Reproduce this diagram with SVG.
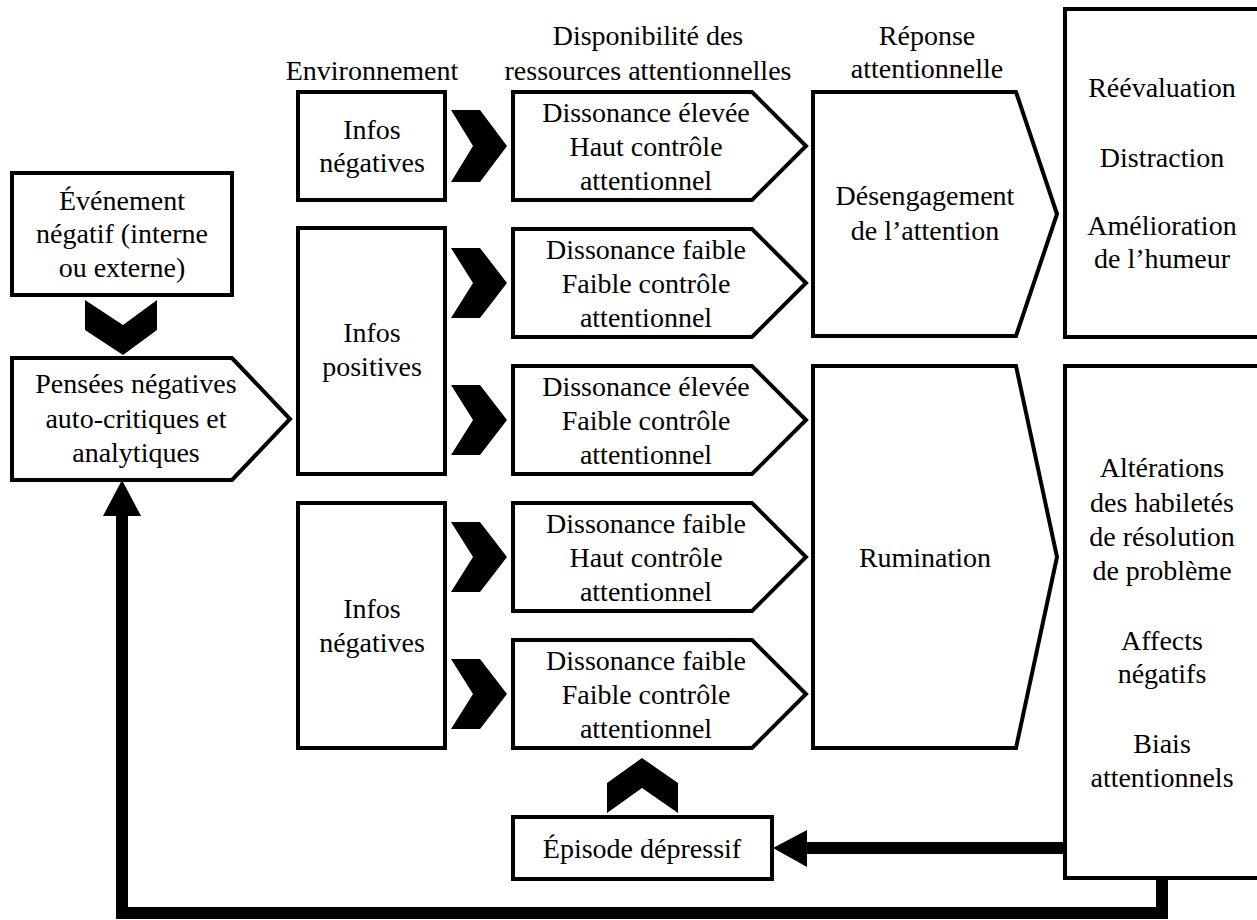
<svg xmlns="http://www.w3.org/2000/svg" width="1257" height="920" viewBox="0 0 1257 920" font-family="Liberation Serif, Times New Roman, DejaVu Serif, serif" font-size="28">
<style>
.box{fill:#fff;stroke:#000;stroke-width:4;stroke-linejoin:miter}
.chev{fill:#000;stroke:none}
text{fill:#000;text-anchor:middle}
.wire{fill:none;stroke:#000;stroke-width:12}
</style>
<rect width="1257" height="920" fill="#fff"/>
<g id="headers">
<text x="372" y="80">Environnement</text>
<text x="648" y="45">Disponibilité des</text>
<text x="648" y="80">ressources attentionnelles</text>
<text x="927" y="45">Réponse</text>
<text x="927" y="78">attentionnelle</text>
</g>
<g id="evenement">
<rect class="box" x="12" y="173" width="220" height="122"/>
<text x="122" y="210">Événement</text>
<text x="122" y="243">négatif (interne</text>
<text x="122" y="277">ou externe)</text>
</g>
<g id="pensees">
<polygon class="box" points="12,358 232,358 290,419 232,480 12,480"/>
<text x="136" y="393">Pensées négatives</text>
<text x="136" y="428">auto-critiques et</text>
<text x="136" y="462">analytiques</text>
</g>
<g id="infos-neg-1">
<rect class="box" x="298" y="92" width="147" height="108"/>
<text x="372" y="139">Infos</text>
<text x="372" y="172">négatives</text>
</g>
<g id="infos-pos">
<rect class="box" x="298" y="228" width="147" height="246"/>
<text x="372" y="342">Infos</text>
<text x="372" y="376">positives</text>
</g>
<g id="infos-neg-2">
<rect class="box" x="298" y="503" width="147" height="245"/>
<text x="372" y="618">Infos</text>
<text x="372" y="652">négatives</text>
</g>
<g id="diss-1">
<polygon class="box" points="513,92 752,92 806,146 752,200 513,200"/>
<text x="646" y="122">Dissonance élevée</text>
<text x="646" y="156">Haut contrôle</text>
<text x="646" y="190">attentionnel</text>
</g>
<g id="diss-2">
<polygon class="box" points="513,229 752,229 806,283 752,337 513,337"/>
<text x="646" y="259">Dissonance faible</text>
<text x="646" y="293">Faible contrôle</text>
<text x="646" y="327">attentionnel</text>
</g>
<g id="diss-3">
<polygon class="box" points="513,366 752,366 806,420 752,474 513,474"/>
<text x="646" y="396">Dissonance élevée</text>
<text x="646" y="430">Faible contrôle</text>
<text x="646" y="464">attentionnel</text>
</g>
<g id="diss-4">
<polygon class="box" points="513,503 752,503 806,557 752,611 513,611"/>
<text x="646" y="533">Dissonance faible</text>
<text x="646" y="567">Haut contrôle</text>
<text x="646" y="601">attentionnel</text>
</g>
<g id="diss-5">
<polygon class="box" points="513,640 752,640 806,694 752,748 513,748"/>
<text x="646" y="670">Dissonance faible</text>
<text x="646" y="704">Faible contrôle</text>
<text x="646" y="738">attentionnel</text>
</g>
<g id="desengagement">
<polygon class="box" points="813,92 1016,92 1057,214 1016,336 813,336"/>
<text x="925" y="205">Désengagement</text>
<text x="925" y="240">de l’attention</text>
</g>
<g id="rumination">
<polygon class="box" points="813,366 1016,366 1057,557 1016,748 813,748"/>
<text x="925" y="567">Rumination</text>
</g>
<g id="issues-positives">
<rect class="box" x="1065" y="9" width="210" height="328"/>
<text x="1162" y="97">Réévaluation</text>
<text x="1162" y="167">Distraction</text>
<text x="1162" y="235">Amélioration</text>
<text x="1162" y="268">de l’humeur</text>
</g>
<g id="issues-negatives">
<rect class="box" x="1065" y="366" width="210" height="512"/>
<text x="1162" y="477">Altérations</text>
<text x="1162" y="512">des habiletés</text>
<text x="1162" y="546">de résolution</text>
<text x="1162" y="580">de problème</text>
<text x="1162" y="650">Affects</text>
<text x="1162" y="683">négatifs</text>
<text x="1162" y="753">Biais</text>
<text x="1162" y="787">attentionnels</text>
</g>
<g id="episode">
<rect class="box" x="513" y="817" width="259" height="62"/>
<text x="642" y="858">Épisode dépressif</text>
</g>
<g id="connectors">
<polygon class="chev" points="85,300 123,325 157,300 157,330 123,355 85,330"/>
<polygon class="chev" points="451,110 480,110 507,146 480,182 451,182 473,146"/>
<polygon class="chev" points="451,248 480,248 507,283 480,318 451,318 473,283"/>
<polygon class="chev" points="451,385 480,385 507,420 480,455 451,455 473,420"/>
<polygon class="chev" points="451,522 480,522 507,557 480,592 451,592 473,557"/>
<polygon class="chev" points="451,659 480,659 507,694 480,729 451,729 473,694"/>
<polygon class="chev" points="607,783 642,758 678,783 678,813 642,788 607,813"/>
<line class="wire" x1="1065" y1="848" x2="805" y2="848"/>
<polygon class="chev" points="773,848 807,830 807,867"/>
<polyline class="wire" points="1162,878 1162,913 122,913 122,514"/>
<polygon class="chev" points="122,480 103,516 141,516"/>
</g>
</svg>
